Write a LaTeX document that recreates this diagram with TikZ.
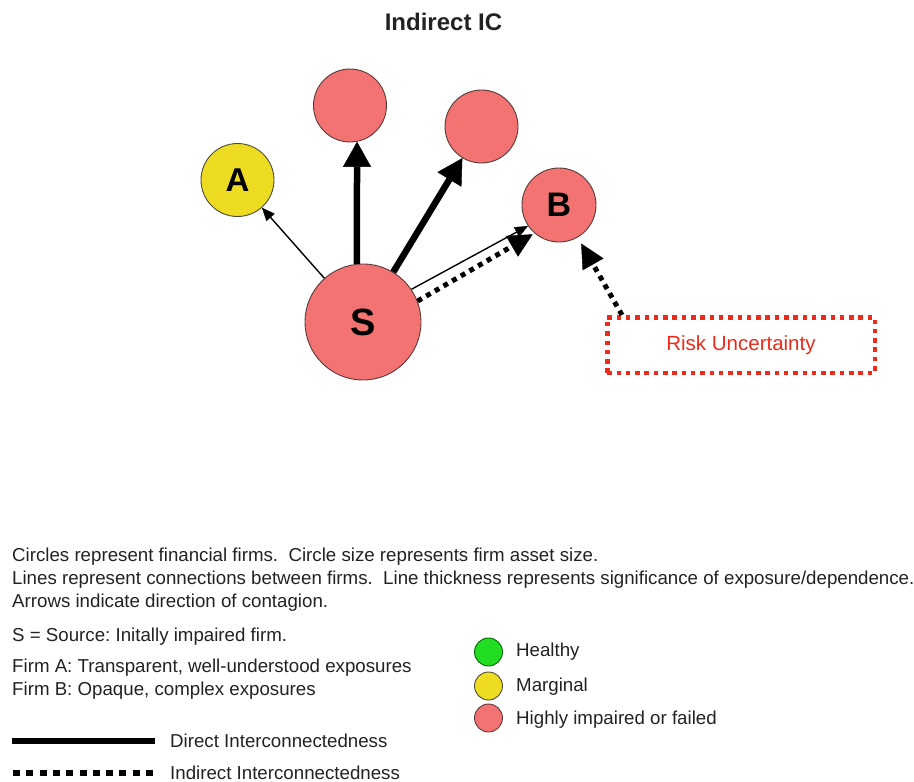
\documentclass[tikz,border=0pt]{standalone}
\usepackage{fontspec}
\setmainfont{Liberation Sans}
\usetikzlibrary{arrows.meta,calc}
\frenchspacing

\definecolor{redfill}{HTML}{F37373}
\definecolor{yellowfill}{HTML}{EEDC22}
\definecolor{greenfill}{HTML}{22DD22}
\definecolor{edgegray}{HTML}{5A3A3A}
\definecolor{textgray}{HTML}{222222}
\definecolor{riskred}{HTML}{EE2A1A}

\tikzset{
  firm/.style={circle, draw=edgegray, line width=0.9pt, inner sep=0pt, text=black},
  redfirm/.style={firm, fill=redfill},
  yellowfirm/.style={firm, fill=yellowfill, draw=black!80!yellow},
  greenfirm/.style={firm, fill=greenfill, draw=green!40!black},
  thinlink/.style={line width=1.4pt, -{Triangle[length=13pt,width=11pt,line width=0.4pt]}},
  thicklink/.style={line width=6.5pt, -{Triangle[length=25pt,width=28pt,line width=0.4pt]}},
  dotlink/.style={line width=5pt, dash pattern=on 5pt off 5pt, -{Triangle[length=24pt,width=24pt,line width=0.4pt]}},
  desc/.style={anchor=base west, inner sep=0pt, text=textgray, font=\fontsize{18.7}{22}\selectfont},
}

\begin{document}
\begin{tikzpicture}[x=1pt, y=-1pt]
\useasboundingbox (0,0) rectangle (914,782);

% title
\node[inner sep=0pt, text=textgray, font=\fontsize{24}{28}\selectfont\bfseries] (title) at (443.5,22) {Indirect IC};

% firms
\node[redfirm, minimum size=116pt, font=\fontsize{38}{38}\selectfont\bfseries] (S) at (363,322) {S};
\node[yellowfirm, minimum size=73pt, font=\fontsize{33}{33}\selectfont\bfseries] (A) at (237.5,180) {A};
\node[redfirm, minimum size=73pt] (T1) at (350,105.5) {};
\node[redfirm, minimum size=73pt] (T2) at (481.5,126.5) {};
\node[redfirm, minimum size=74pt, font=\fontsize{34}{34}\selectfont\bfseries] (B) at (559,205) {B};

% risk uncertainty box
\node[draw=riskred, line width=4.5pt, dash pattern=on 4.5pt off 4.8pt,
      minimum width=267.5pt, minimum height=55.5pt, inner sep=0pt,
      text=riskred, font=\fontsize{20.5}{24}\selectfont] (risk) at (741,345) {Risk Uncertainty};

% contagion links
\draw[thinlink] (S) -- (A);
\draw[thicklink] (S.96) -- (T1.-79);
\draw[thicklink] (S) -- (T2);
\draw[thinlink] (S.34) -- (B.-146);
\draw[dotlink, shorten >=2pt] (S.21) -- (B.-131);
\coordinate (riskstart) at ([xshift=17pt]risk.north west);
\draw[dotlink, shorten >=7pt] (riskstart) -- (B.-60);

% explanatory text
\node[desc] (l1) at (12,561) {Circles represent financial firms.\ \ Circle size represents firm asset size.};
\node[desc] (l2) at (12,584) {Lines represent connections between firms.\ \ Line thickness represents significance of exposure/dependence.};
\node[desc] (l3) at (12,607) {Arrows indicate direction of contagion.};
\node[desc] (l4) at (12,641) {S = Source: Initally impaired firm.};
\node[desc] (l5) at (12,672) {Firm A: Transparent, well-understood exposures};
\node[desc] (l6) at (12,695) {Firm B: Opaque, complex exposures};

% line legend
\coordinate (ds) at (12,741);
\coordinate (de) at (155,741);
\draw[line width=6pt] (ds) -- (de);
\node[desc] (ld) at (170,747) {Direct Interconnectedness};
\coordinate (is) at (13,773);
\coordinate (ie) at (153,773);
\draw[line width=6pt, dash pattern=on 7pt off 6.3pt] (is) -- (ie);
\node[desc] (li) at (170,779) {Indirect Interconnectedness};

% colour legend
\node[greenfirm, minimum size=28pt] (kg) at (488.5,652) {};
\node[yellowfirm, minimum size=28pt] (ky) at (488.5,686) {};
\node[redfirm, minimum size=28pt] (kr) at (488.5,718) {};
\node[desc] (tg) at (516,656) {Healthy};
\node[desc] (ty) at (516,691) {Marginal};
\node[desc] (tr) at (516,724) {Highly impaired or failed};
\end{tikzpicture}
\end{document}
